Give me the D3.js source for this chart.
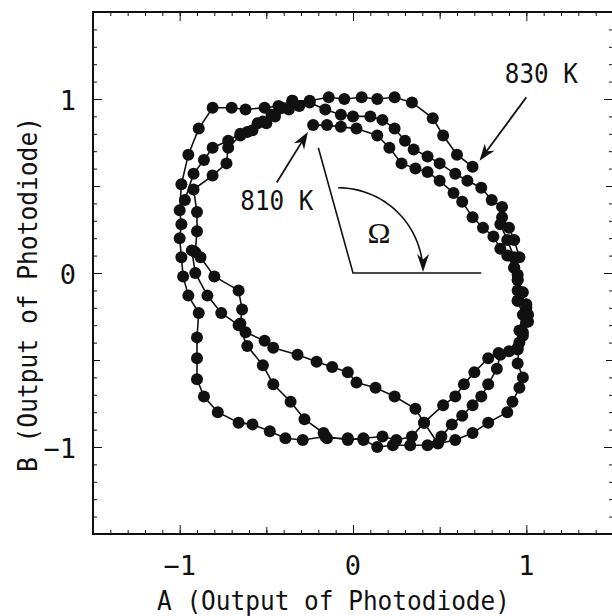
<!DOCTYPE html>
<html>
<head>
<meta charset="utf-8">
<script src="https://cdn.jsdelivr.net/npm/d3@7"></script>
<style>
  body { margin: 0; background: #fff; }
  svg { display: block; }
</style>
</head>
<body>
<div id="chart"></div>
<script>
// outer trajectory, ends at the 830 K arrow
var curve830 = [
  [0.85, 0.28], [0.89, 0.19], [0.93, 0.09], [0.95, -0.01], [0.97, -0.11], [1.00, -0.20],
  [1.01, -0.28], [0.98, -0.36], [0.95, -0.43], [0.90, -0.45], [0.84, -0.46], [0.78, -0.49],
  [0.70, -0.57], [0.64, -0.64], [0.59, -0.71], [0.52, -0.76], [0.41, -0.86], [0.34, -0.94],
  [0.25, -0.96], [0.17, -0.94], [0.06, -0.95], [-0.03, -0.96], [-0.16, -0.94], [-0.29, -0.96],
  [-0.39, -0.95], [-0.48, -0.91], [-0.58, -0.87], [-0.66, -0.86], [-0.78, -0.80], [-0.86, -0.71],
  [-0.90, -0.61], [-0.90, -0.49], [-0.90, -0.37], [-0.89, -0.23], [-0.95, -0.13], [-0.98, -0.02],
  [-0.99, 0.09], [-1.00, 0.20], [-0.99, 0.28], [-1.00, 0.36], [-0.99, 0.51], [-0.95, 0.68],
  [-0.89, 0.83], [-0.81, 0.95], [-0.70, 0.95], [-0.62, 0.94], [-0.51, 0.95], [-0.43, 0.96],
  [-0.35, 0.99], [-0.25, 0.99], [-0.14, 1.01], [-0.05, 1.00], [0.05, 1.01], [0.14, 1.00],
  [0.24, 1.01], [0.34, 0.98], [0.46, 0.89], [0.52, 0.79], [0.60, 0.68], [0.69, 0.61]
];

// trajectory starting at the 810 K arrow
var curve810 = [
  [-0.23, 0.85], [-0.15, 0.85], [-0.07, 0.84], [0.02, 0.83], [0.14, 0.79], [0.21, 0.72],
  [0.28, 0.63], [0.36, 0.60], [0.43, 0.58], [0.50, 0.53], [0.58, 0.46], [0.63, 0.41],
  [0.69, 0.32], [0.75, 0.26], [0.81, 0.21], [0.85, 0.14], [0.89, 0.10], [0.93, 0.03],
  [0.95, -0.04], [0.95, -0.10], [0.95, -0.16], [0.98, -0.24], [0.96, -0.33], [0.96, -0.40],
  [0.95, -0.52], [0.98, -0.60], [0.96, -0.66], [0.92, -0.74], [0.89, -0.80], [0.78, -0.86],
  [0.69, -0.92], [0.59, -0.96], [0.49, -0.98], [0.41, -0.86], [0.36, -0.78], [0.24, -0.71],
  [0.13, -0.66], [0.02, -0.63], [-0.03, -0.57], [-0.12, -0.54], [-0.21, -0.51], [-0.32, -0.47],
  [-0.46, -0.43], [-0.51, -0.39], [-0.62, -0.34], [-0.65, -0.29], [-0.64, -0.21], [-0.66, -0.10],
  [-0.80, -0.02], [-0.88, 0.09], [-0.91, 0.12], [-0.90, 0.24], [-0.90, 0.35], [-0.92, 0.48],
  [-0.81, 0.56], [-0.73, 0.63], [-0.72, 0.72], [-0.65, 0.79], [-0.58, 0.82], [-0.52, 0.87],
  [-0.45, 0.90], [-0.37, 0.94], [-0.31, 0.96]
];

// third (unlabelled) trajectory
var curve820 = [
  [-0.97, 0.42], [-0.92, 0.57], [-0.86, 0.65], [-0.81, 0.72], [-0.72, 0.76], [-0.65, 0.80],
  [-0.61, 0.81], [-0.55, 0.86], [-0.50, 0.86], [-0.47, 0.91], [-0.41, 0.95], [-0.35, 0.99],
  [-0.25, 0.98], [-0.16, 0.94], [-0.07, 0.91], [0.00, 0.90], [0.10, 0.90], [0.17, 0.88],
  [0.24, 0.83], [0.30, 0.76], [0.35, 0.71], [0.43, 0.67], [0.50, 0.63], [0.59, 0.57],
  [0.66, 0.53], [0.74, 0.49], [0.80, 0.42], [0.86, 0.38], [0.86, 0.32], [0.90, 0.26],
  [0.93, 0.19], [0.96, 0.09], [0.93, 0.03], [0.95, -0.04], [0.98, -0.11], [0.95, -0.16],
  [1.00, -0.18], [1.01, -0.24], [1.00, -0.28], [0.98, -0.34], [0.95, -0.44], [0.85, -0.47],
  [0.83, -0.55], [0.78, -0.64], [0.74, -0.71], [0.69, -0.76], [0.63, -0.82], [0.57, -0.87],
  [0.51, -0.94], [0.43, -0.99], [0.33, -0.99], [0.23, -0.99], [0.14, -1.00], [0.06, -0.96],
  [-0.03, -0.95], [-0.15, -0.95], [-0.17, -0.92], [-0.28, -0.84], [-0.36, -0.74], [-0.46, -0.64],
  [-0.52, -0.53], [-0.61, -0.42], [-0.66, -0.30], [-0.76, -0.23], [-0.84, -0.13], [-0.91, 0.00],
  [-0.93, 0.13]
];

var majorTicks = [-1, 0, 1];
var halfTicks = [-0.5, 0.5];
var minorTicks = d3.range(-15, 16).map(function(d) { return d / 10; });
var tickLabels = ["\u22121", "0", "1"];
var xLabel = "A (Output of Photodiode)";
var yLabel = "B (Output of Photodiode)";

var labelFont = "'DejaVu Sans Mono', 'Liberation Mono', monospace";

// set the dimensions and margins of the graph
var margin = { top: 12, right: 0, bottom: 82, left: 93 },
    width = 520,
    height = 522;

var svg = d3.select("#chart")
  .append("svg")
  .attr("width", 612)
  .attr("height", 616);

var g = svg.append("g")
  .attr("transform", "translate(" + margin.left + "," + margin.top + ")");

var x = d3.scaleLinear().domain([-1.5, 1.5]).range([0, width]);
var y = d3.scaleLinear().domain([-1.5, 1.5]).range([height, 0]);

// inward ticks on all four sides
function addTicks(axis, transform, values, size) {
  g.append("g")
    .attr("transform", transform)
    .call(axis.tickValues(values).tickSizeInner(-size).tickSizeOuter(0).tickFormat(""))
    .call(function(s) { s.select(".domain").remove(); })
    .selectAll("line")
    .attr("stroke", "#111")
    .attr("stroke-width", 1);
}
[[minorTicks, 4], [halfTicks, 7], [majorTicks, 9]].forEach(function(t) {
  addTicks(d3.axisBottom(x), "translate(0," + height + ")", t[0], t[1]);
  addTicks(d3.axisTop(x), "translate(0,0)", t[0], t[1]);
  addTicks(d3.axisLeft(y), "translate(0,0)", t[0], t[1]);
  addTicks(d3.axisRight(y), "translate(" + width + ",0)", t[0], t[1]);
});

// frame
g.append("rect")
  .attr("x", 0).attr("y", 0)
  .attr("width", width).attr("height", height)
  .attr("fill", "none")
  .attr("stroke", "#111")
  .attr("stroke-width", 2);

// tick labels
g.selectAll(".xtick")
  .data(majorTicks)
  .enter()
  .append("text")
  .attr("x", function(d) { return x(d); })
  .attr("y", height + 41)
  .attr("text-anchor", "middle")
  .style("font-family", labelFont)
  .style("font-size", "27px")
  .attr("fill", "#111")
  .text(function(d, i) { return tickLabels[i]; });

g.selectAll(".ytick")
  .data(majorTicks)
  .enter()
  .append("text")
  .attr("x", -17)
  .attr("y", function(d) { return y(d) + 11; })
  .attr("text-anchor", "end")
  .style("font-family", labelFont)
  .style("font-size", "27px")
  .attr("fill", "#111")
  .text(function(d, i) { return tickLabels[i]; });

// axis titles
svg.append("text")
  .attr("x", 157)
  .attr("y", 610)
  .attr("textLength", 353)
  .attr("lengthAdjust", "spacingAndGlyphs")
  .style("font-family", labelFont)
  .style("font-size", "27px")
  .attr("fill", "#111")
  .text(xLabel);

svg.append("text")
  .attr("transform", "translate(37,472) rotate(-90)")
  .attr("textLength", 355)
  .attr("lengthAdjust", "spacingAndGlyphs")
  .style("font-family", labelFont)
  .style("font-size", "27px")
  .attr("fill", "#111")
  .text(yLabel);

// trajectories: lines then dots
var line = d3.line()
  .x(function(d) { return x(d[0]); })
  .y(function(d) { return y(d[1]); });

[curve830, curve810, curve820].forEach(function(curve) {
  g.append("path")
    .datum(curve)
    .attr("d", line)
    .attr("fill", "none")
    .attr("stroke", "#111")
    .attr("stroke-width", 1.6);
  g.selectAll(null)
    .data(curve)
    .enter()
    .append("circle")
    .attr("cx", function(d) { return x(d[0]); })
    .attr("cy", function(d) { return y(d[1]); })
    .attr("r", 6)
    .attr("fill", "#111");
});

// arrow helper (pixel space from data coordinates)
function arrowHead(tipX, tipY, ux, uy, len, halfW) {
  var nx = -uy, ny = ux;
  var bx = tipX - ux * len, by = tipY - uy * len;
  var p = [
    [tipX, tipY],
    [bx + nx * halfW, by + ny * halfW],
    [tipX - ux * len * 0.7, tipY - uy * len * 0.7],
    [bx - nx * halfW, by - ny * halfW]
  ];
  g.append("path")
    .attr("d", "M" + p.join("L") + "Z")
    .attr("fill", "#111");
}

function arrow(tail, tip) {
  var x0 = x(tail[0]), y0 = y(tail[1]), x1 = x(tip[0]), y1 = y(tip[1]);
  var dx = x1 - x0, dy = y1 - y0, L = Math.sqrt(dx * dx + dy * dy);
  var ux = dx / L, uy = dy / L;
  g.append("line")
    .attr("x1", x0).attr("y1", y0)
    .attr("x2", x1 - ux * 8).attr("y2", y1 - uy * 8)
    .attr("stroke", "#111")
    .attr("stroke-width", 1.8);
  arrowHead(x1, y1, ux, uy, 17, 6);
}

// temperature labels
var labels = [
  { text: "830 K", at: [0.876, 1.092], tail: [1.00, 1.01], tip: [0.73, 0.645] },
  { text: "810 K", at: [-0.65, 0.36], tail: [-0.44, 0.52], tip: [-0.26, 0.81] }
];
labels.forEach(function(l) {
  g.append("text")
    .attr("x", x(l.at[0]))
    .attr("y", y(l.at[1]))
    .attr("textLength", 73)
    .attr("lengthAdjust", "spacingAndGlyphs")
    .style("font-family", labelFont)
    .style("font-size", "27px")
    .attr("fill", "#111")
    .text(l.text);
  arrow(l.tail, l.tip);
});

// Omega angle annotation
var omegaVertex = [0, 0],
    omegaSlant = [-0.20, 0.72],
    omegaBase = [0.74, 0],
    omegaCenter = [-0.086, 0],
    omegaRadius = 0.49;

g.append("path")
  .attr("d", line([omegaSlant, omegaVertex, omegaBase]))
  .attr("fill", "none")
  .attr("stroke", "#111")
  .attr("stroke-width", 1.6);

var arcPts = d3.range(0, 91, 3).map(function(a) {
  var r = a * Math.PI / 180;
  return [omegaCenter[0] + omegaRadius * Math.sin(r), omegaCenter[1] + omegaRadius * Math.cos(r)];
});
g.append("path")
  .attr("d", line(arcPts.slice(0, arcPts.length - 2)))
  .attr("fill", "none")
  .attr("stroke", "#111")
  .attr("stroke-width", 1.6);
var arcEnd = arcPts[arcPts.length - 1];
arrowHead(x(arcEnd[0]), y(arcEnd[1]) - 1, 0, 1, 18, 6);

g.append("text")
  .attr("x", x(0.15))
  .attr("y", y(0.17))
  .attr("text-anchor", "middle")
  .attr("textLength", 23)
  .attr("lengthAdjust", "spacingAndGlyphs")
  .style("font-family", "'Liberation Serif', 'DejaVu Serif', serif")
  .style("font-size", "30px")
  .attr("fill", "#111")
  .text("\u03A9");
</script>
</body>
</html>
